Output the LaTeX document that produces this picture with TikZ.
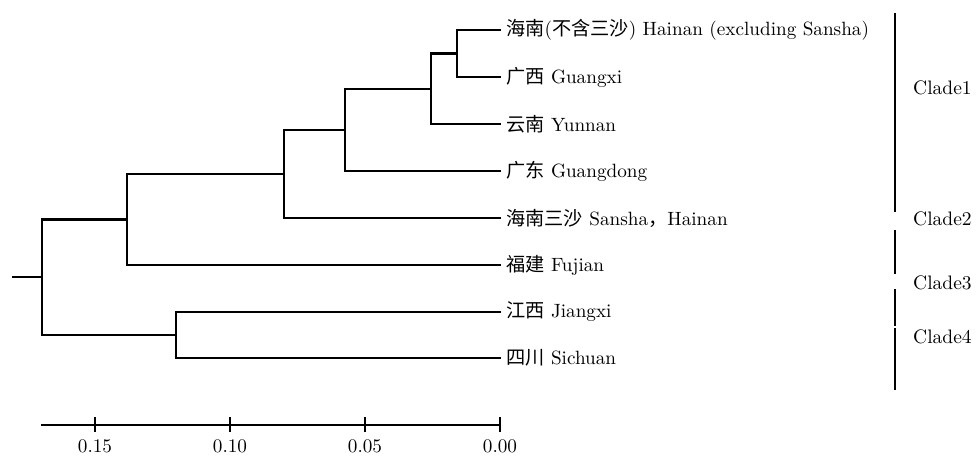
\documentclass[tikz,border=0pt]{standalone}
\usepackage{fontspec}
\setmainfont{lmroman10-regular}[Extension=.otf]
\newfontfamily\cjk{Noto Sans CJK SC}
\begin{document}
\begin{tikzpicture}[x=1pt,y=-1pt,
  branch/.style={line width=2.4pt,line cap=rect},
  leaf/.style={anchor=west,inner sep=0pt,xshift=6pt,font=\fontsize{19.2}{22}\selectfont},
  cladebar/.style={line width=2pt},
  cladelab/.style={anchor=west,inner sep=0pt,font=\fontsize{19.5}{22}\selectfont},
  axisline/.style={line width=2.8pt},
  ticklab/.style={inner sep=0pt,font=\fontsize{19.2}{22}\selectfont}]
\useasboundingbox (0,0) rectangle (976,457);
% leaf tips
\coordinate (tHN) at (500,30);
\coordinate (tGX) at (500,77);
\coordinate (tYN) at (500,124);
\coordinate (tGD) at (500,171);
\coordinate (tSS) at (500,218);
\coordinate (tFJ) at (500,265);
\coordinate (tJX) at (500,312);
\coordinate (tSC) at (500,358);
% leaf labels
\node[leaf] (lHN) at (tHN) {{\cjk 海南}({\cjk 不含三沙}) Hainan (excluding Sansha)};
\node[leaf] (lGX) at (tGX) {{\cjk 广西} Guangxi};
\node[leaf] (lYN) at (tYN) {{\cjk 云南} Yunnan};
\node[leaf] (lGD) at (tGD) {{\cjk 广东} Guangdong};
\node[leaf] (lSS) at (tSS) {{\cjk 海南三沙} Sansha{\cjk ，}Hainan};
\node[leaf] (lFJ) at (tFJ) {{\cjk 福建} Fujian};
\node[leaf] (lJX) at (tJX) {{\cjk 江西} Jiangxi};
\node[leaf] (lSC) at (tSC) {{\cjk 四川} Sichuan};
% internal nodes
\coordinate (n1) at (457,53.5);
\coordinate (n2) at (431,89);
\coordinate (n3) at (345,130);
\coordinate (n4) at (284,174);
\coordinate (n5) at (127,219.5);
\coordinate (n6) at (176,335);
\coordinate (root) at (42,277);
\coordinate (stub) at (13,277);
% branches
\draw[branch] (n1) |- (tHN);
\draw[branch] (n1) |- (tGX);
\draw[branch] (n2) |- (n1);
\draw[branch] (n2) |- (tYN);
\draw[branch] (n3) |- (n2);
\draw[branch] (n3) |- (tGD);
\draw[branch] (n4) |- (n3);
\draw[branch] (n4) |- (tSS);
\draw[branch] (n5) |- (n4);
\draw[branch] (n5) |- (tFJ);
\draw[branch] (n6) |- (tJX);
\draw[branch] (n6) |- (tSC);
\draw[branch] (root) |- (n5);
\draw[branch] (root) |- (n6);
\draw[branch] (stub) -- (root);
% clade bars
\coordinate (c1a) at (895,13);  \coordinate (c1b) at (895,212);
\coordinate (c2a) at (895,230); \coordinate (c2b) at (895,274);
\coordinate (c3a) at (895,289); \coordinate (c3b) at (895,326);
\coordinate (c4a) at (895,328); \coordinate (c4b) at (895,390);
\draw[cladebar] (c1a) -- (c1b);
\draw[cladebar] (c2a) -- (c2b);
\draw[cladebar] (c3a) -- (c3b);
\draw[cladebar] (c4a) -- (c4b);
\node[cladelab] (k1) at (913,88) {Clade1};
\node[cladelab] (k2) at (913,219) {Clade2};
\node[cladelab] (k3) at (913,283) {Clade3};
\node[cladelab] (k4) at (913,337) {Clade4};
% scale axis
\coordinate (a0) at (41,425);
\coordinate (a15) at (95,425);
\coordinate (a10) at (230,425);
\coordinate (a05) at (365,425);
\coordinate (a00) at (500,425);
\draw[axisline] (a0) -- (a00);
\foreach \p in {a15,a10,a05,a00}{
  \draw[line width=1.6pt] ([yshift=-7pt]\p) -- ([yshift=8pt]\p);
}
\node[ticklab] (v15) at (95,446) {0.15};
\node[ticklab] (v10) at (230,446) {0.10};
\node[ticklab] (v05) at (365,446) {0.05};
\node[ticklab] (v00) at (500,446) {0.00};
\end{tikzpicture}
\end{document}
